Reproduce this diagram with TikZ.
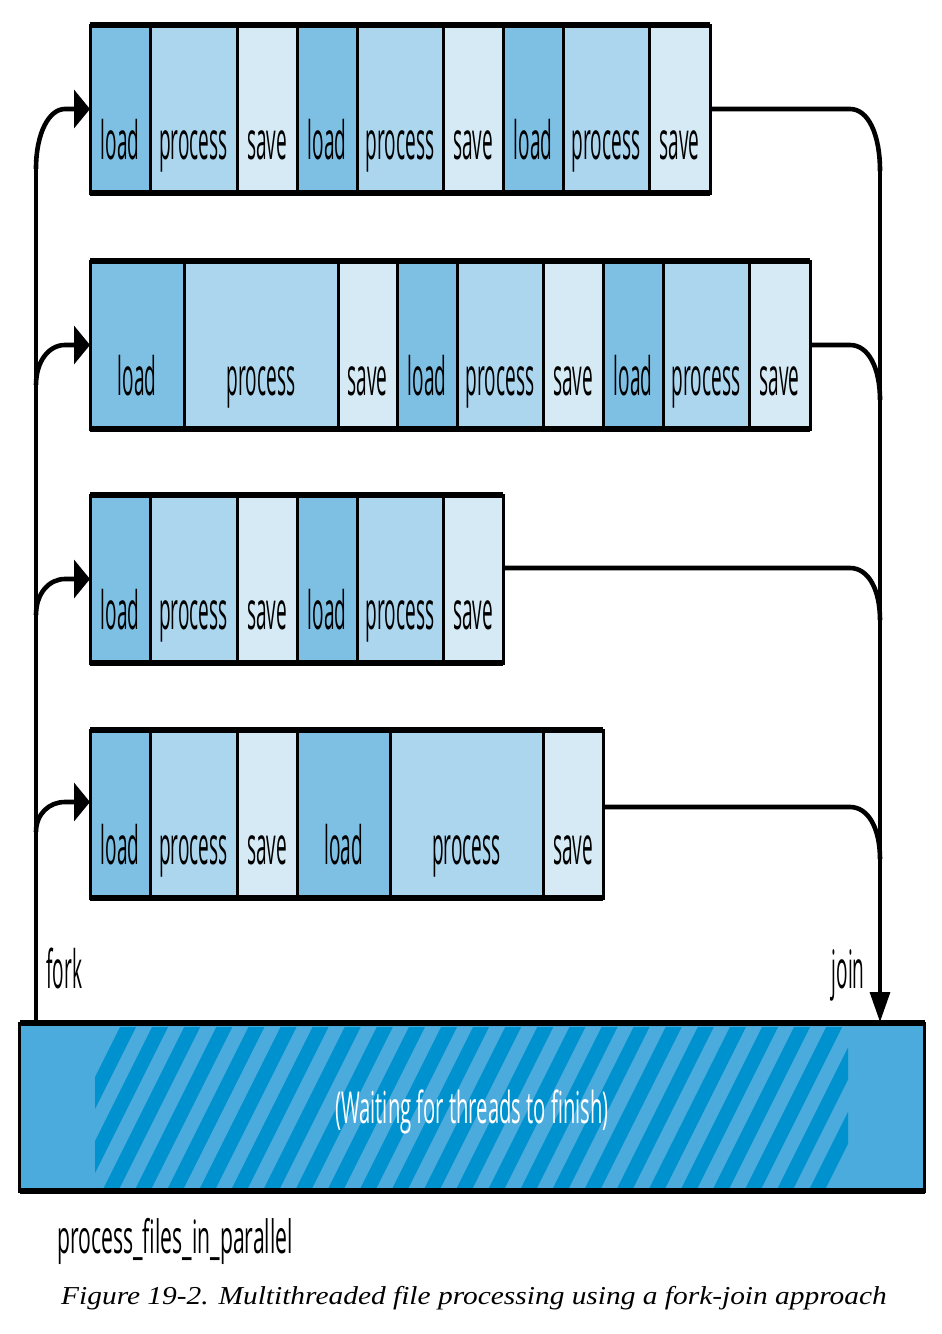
\documentclass[tikz,border=0pt]{standalone}
\usepackage{fontspec}
\setmainfont{Liberation Serif}
\newfontfamily\boxfont[FakeStretch=0.36]{Open Sans}
\newfontfamily\widefont[FakeStretch=0.46]{Open Sans}
\newfontfamily\capfont[FakeStretch=1.14]{Liberation Serif}
\usetikzlibrary{arrows.meta,calc}
\definecolor{loadblue}{RGB}{125,192,228}
\definecolor{procblue}{RGB}{171,214,238}
\definecolor{saveblue}{RGB}{214,234,245}
\definecolor{barblue}{RGB}{75,171,220}
\definecolor{stripeblue}{RGB}{0,146,207}
\tikzstyle{cell} = [draw=black, line width=1.5pt, inner sep=0pt, outer sep=0pt, text height=67pt, text depth=17pt, font={\boxfont\fontsize{26.5}{30}\selectfont}]
\tikzstyle{load} = [fill=loadblue]
\tikzstyle{process} = [fill=procblue]
\tikzstyle{save} = [fill=saveblue]
\tikzstyle{edge} = [line width=3pt]
\tikzstyle{bar} = [draw=black, line width=1.5pt, fill=barblue, inner sep=0pt, outer sep=0pt, minimum width=452.5pt, minimum height=84pt]
\tikzstyle{stripe} = [fill=stripeblue]
\tikzstyle{trunk} = [line width=1.6pt]
\tikzstyle{branch} = [line width=2.3pt]
\tikzstyle{lbl} = [inner sep=0pt, font={\boxfont\fontsize{26.5}{30}\selectfont}]
\tikzstyle{funlbl} = [inner sep=0pt, font={\widefont\fontsize{23}{26}\selectfont}]
\tikzstyle{waitlbl} = [inner sep=0pt, text=white, font={\widefont\fontsize{22}{25}\selectfont}]
\tikzstyle{caption} = [inner sep=0pt, font={\capfont\itshape\fontsize{12.9}{15}\selectfont}]

\begin{document}
\begin{tikzpicture}[x=0.5pt,y=-0.5pt]
    \useasboundingbox (0,0) rectangle (942,1334);
    % threads
    \foreach \a/\b/\t [count=\i, evaluate=\a as \w using (\b-\a)/2, evaluate=\a as \c using (\a+\b)/2] in
      {90/150/load,150/237/process,237/297/save,297/357/load,357/443/process,443/503/save,503/563/load,563/649/process,649/710/save}
      \node[cell,\t,minimum width=\w pt](th1-\i) at (\c,109){\t};
    \foreach \a/\b/\t [count=\i, evaluate=\a as \w using (\b-\a)/2, evaluate=\a as \c using (\a+\b)/2] in
      {90/184/load,184/338/process,338/397/save,397/457/load,457/543/process,543/603/save,603/663/load,663/749/process,749/810/save}
      \node[cell,\t,minimum width=\w pt](th2-\i) at (\c,345){\t};
    \foreach \a/\b/\t [count=\i, evaluate=\a as \w using (\b-\a)/2, evaluate=\a as \c using (\a+\b)/2] in
      {90/150/load,150/237/process,237/297/save,297/357/load,357/443/process,443/503/save}
      \node[cell,\t,minimum width=\w pt](th3-\i) at (\c,579){\t};
    \foreach \a/\b/\t [count=\i, evaluate=\a as \w using (\b-\a)/2, evaluate=\a as \c using (\a+\b)/2] in
      {90/150/load,150/237/process,237/297/save,297/390/load,390/543/process,543/603/save}
      \node[cell,\t,minimum width=\w pt](th4-\i) at (\c,814){\t};
    \foreach \r/\n in {1/9,2/9,3/6,4/6}{
      \draw[edge](th\r-1.north west)--(th\r-\n.north east);
      \draw[edge](th\r-1.south west)--(th\r-\n.south east);
    }
    % waiting bar
    \node[bar](wait) at (472,1107){};
    \begin{scope}
      \clip (95,1027) rectangle (848,1188);
      \foreach \k in {0,...,24}
        \fill[stripe] ({39.5+32.1*\k},1188) -- ++(16,0) -- ++(80.5,-161) -- ++(-16,0) -- cycle;
    \end{scope}
    \draw[edge](wait.north west)--(wait.north east);
    \draw[edge](wait.south west)--(wait.south east);
    \node[waitlbl,anchor=base](waittext) at (472,1123){(Waiting for threads to finish)};
    % fork and join
    \coordinate (fork) at (36,1022);
    \coordinate (join) at (880,1022);
    \draw[trunk] (fork) -- ($(fork |- th1-1.west)+(0,60)$);
    \foreach \r/\dy/\dv in {1/0/60,2/0/40,3/0/36,4/-12/30}
      \draw[branch,-{Triangle[length=8pt,width=19pt]}] ($(fork |- th\r-1.west)+(0,\dy+\dv)$)
        .. controls +(0,{-0.6*\dv}) and +(-16,0) .. ($(fork |- th\r-1.west)+(29,\dy)$) -- ($(th\r-1.west)+(0,\dy)$);
    \draw[trunk,-{Triangle[length=15pt,width=10pt]}] ($(join |- th1-9.east)+(0,62)$) -- (join);
    \foreach \r/\n/\dy/\dv in {1/9/0/62,2/9/0/55,3/6/-11/52,4/6/-7/52}
      \draw[branch] ($(th\r-\n.east)+(0,\dy)$) -- ($(join |- th\r-\n.east)+(-30,\dy)$)
        .. controls +(18,0) and +(0,{-0.6*\dv}) .. ($(join |- th\r-\n.east)+(0,\dy+\dv)$);
    % labels
    \node[lbl,anchor=base west](forklbl) at (46,988){fork};
    \node[lbl,anchor=base east](joinlbl) at (865,988){join};
    \node[funlbl,anchor=base west](funname) at (57,1253){process\_files\_in\_parallel};
    \node[caption,anchor=base](figcap) at (474,1304){Figure 19-2. Multithreaded file processing using a fork-join approach};
\end{tikzpicture}
\end{document}
